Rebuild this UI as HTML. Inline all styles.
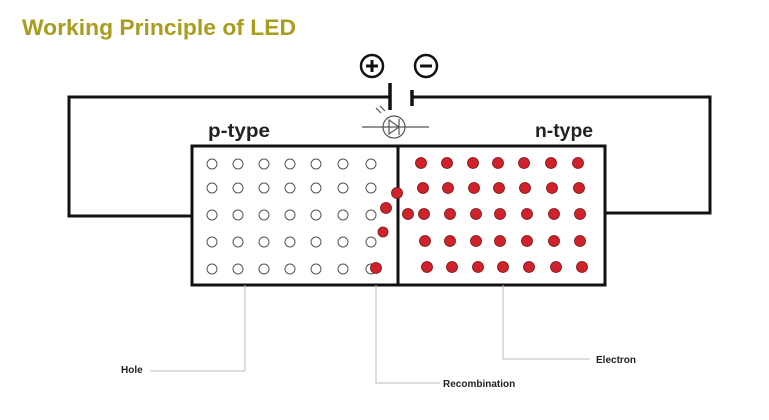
<!DOCTYPE html>
<html><head><meta charset="utf-8"><style>
html,body{margin:0;padding:0;background:#fff;}
svg{display:block;}
</style></head><body>
<svg width="769" height="420" viewBox="0 0 769 420" xmlns="http://www.w3.org/2000/svg">
<rect width="769" height="420" fill="#fff"/>
<text x="22" y="35" font-family="Liberation Sans, sans-serif" font-weight="bold" font-size="22" fill="#aa9c1c" textLength="274" lengthAdjust="spacingAndGlyphs">Working Principle of LED</text>
<!-- wires -->
<g stroke="#111" stroke-width="3" fill="none">
<polyline points="390,97 69,97 69,216 192,216"/>
<polyline points="412,97 710,97 710,213 605,213"/>
<rect x="192" y="146" width="413" height="139"/>
<line x1="398" y1="146" x2="398" y2="285"/>
<line x1="390" y1="83" x2="390" y2="110" stroke-width="3.5"/>
<line x1="412" y1="90" x2="412" y2="106" stroke-width="3.5"/>
<circle cx="372" cy="66" r="11" stroke-width="2.5"/>
<circle cx="426" cy="66" r="11" stroke-width="2.5"/>
<line x1="366" y1="66" x2="378" y2="66" stroke-width="3"/>
<line x1="372" y1="60" x2="372" y2="72" stroke-width="3"/>
<line x1="420" y1="66" x2="432" y2="66" stroke-width="3"/>
</g>
<!-- LED symbol -->
<g stroke="#555" stroke-width="1.2" fill="none">
<line x1="362" y1="127" x2="429" y2="127"/>
<circle cx="394" cy="127" r="11"/>
<polygon points="389,120 389,134 399,127"/>
<line x1="399" y1="119" x2="399" y2="135"/>
<line x1="381" y1="113" x2="376" y2="108"/>
<line x1="385" y1="111" x2="380" y2="106"/>
</g>
<text x="208" y="137" font-family="Liberation Sans, sans-serif" font-weight="bold" font-size="19" fill="#222" textLength="62" lengthAdjust="spacingAndGlyphs">p-type</text>
<text x="535" y="137" font-family="Liberation Sans, sans-serif" font-weight="bold" font-size="19" fill="#222" textLength="58" lengthAdjust="spacingAndGlyphs">n-type</text>
<!-- holes -->
<g stroke="#555" stroke-width="1" fill="#fff">
<circle cx="212" cy="164" r="5"/><circle cx="238" cy="164" r="5"/><circle cx="264" cy="164" r="5"/><circle cx="290" cy="164" r="5"/><circle cx="316" cy="164" r="5"/><circle cx="343" cy="164" r="5"/><circle cx="371" cy="164" r="5"/>
<circle cx="212" cy="188" r="5"/><circle cx="238" cy="188" r="5"/><circle cx="264" cy="188" r="5"/><circle cx="290" cy="188" r="5"/><circle cx="316" cy="188" r="5"/><circle cx="343" cy="188" r="5"/><circle cx="371" cy="188" r="5"/>
<circle cx="212" cy="215" r="5"/><circle cx="238" cy="215" r="5"/><circle cx="264" cy="215" r="5"/><circle cx="290" cy="215" r="5"/><circle cx="316" cy="215" r="5"/><circle cx="343" cy="215" r="5"/><circle cx="371" cy="215" r="5"/>
<circle cx="212" cy="242" r="5"/><circle cx="238" cy="242" r="5"/><circle cx="264" cy="242" r="5"/><circle cx="290" cy="242" r="5"/><circle cx="316" cy="242" r="5"/><circle cx="343" cy="242" r="5"/><circle cx="371" cy="242" r="5"/>
<circle cx="212" cy="269" r="5"/><circle cx="238" cy="269" r="5"/><circle cx="264" cy="269" r="5"/><circle cx="290" cy="269" r="5"/><circle cx="316" cy="269" r="5"/><circle cx="343" cy="269" r="5"/><circle cx="371" cy="269" r="5"/>
</g>
<!-- electrons -->
<g fill="#d0222a" stroke="#7a1115" stroke-width="0.8">
<circle cx="421" cy="163" r="5.5"/><circle cx="447" cy="163" r="5.5"/><circle cx="473" cy="163" r="5.5"/><circle cx="498" cy="163" r="5.5"/><circle cx="524" cy="163" r="5.5"/><circle cx="551" cy="163" r="5.5"/><circle cx="578" cy="163" r="5.5"/>
<circle cx="423" cy="188" r="5.5"/><circle cx="448" cy="188" r="5.5"/><circle cx="474" cy="188" r="5.5"/><circle cx="499" cy="188" r="5.5"/><circle cx="525" cy="188" r="5.5"/><circle cx="552" cy="188" r="5.5"/><circle cx="579" cy="188" r="5.5"/>
<circle cx="424" cy="214" r="5.5"/><circle cx="450" cy="214" r="5.5"/><circle cx="476" cy="214" r="5.5"/><circle cx="500" cy="214" r="5.5"/><circle cx="527" cy="214" r="5.5"/><circle cx="554" cy="214" r="5.5"/><circle cx="580" cy="214" r="5.5"/>
<circle cx="425" cy="241" r="5.5"/><circle cx="450" cy="241" r="5.5"/><circle cx="476" cy="241" r="5.5"/><circle cx="500" cy="241" r="5.5"/><circle cx="527" cy="241" r="5.5"/><circle cx="554" cy="241" r="5.5"/><circle cx="580" cy="241" r="5.5"/>
<circle cx="427" cy="267" r="5.5"/><circle cx="452" cy="267" r="5.5"/><circle cx="478" cy="267" r="5.5"/><circle cx="503" cy="267" r="5.5"/><circle cx="529" cy="267" r="5.5"/><circle cx="556" cy="267" r="5.5"/><circle cx="582" cy="267" r="5.5"/>
<circle cx="397" cy="193" r="5.5"/><circle cx="386" cy="208" r="5.5"/><circle cx="408" cy="214" r="5.5"/><circle cx="383" cy="232" r="5"/><circle cx="376" cy="268" r="5.5"/>
</g>
<!-- leaders -->
<g stroke="#bbb" stroke-width="1" fill="none">
<polyline points="245,285 245,371 150,371"/>
<polyline points="376,285 376,383 440,383"/>
<polyline points="503,285 503,359 590,359"/>
</g>
<g font-family="Liberation Sans, sans-serif" font-weight="bold" font-size="10" fill="#222">
<text x="121" y="373">Hole</text>
<text x="443" y="387">Recombination</text>
<text x="596" y="363">Electron</text>
</g>
</svg>
</body></html>
